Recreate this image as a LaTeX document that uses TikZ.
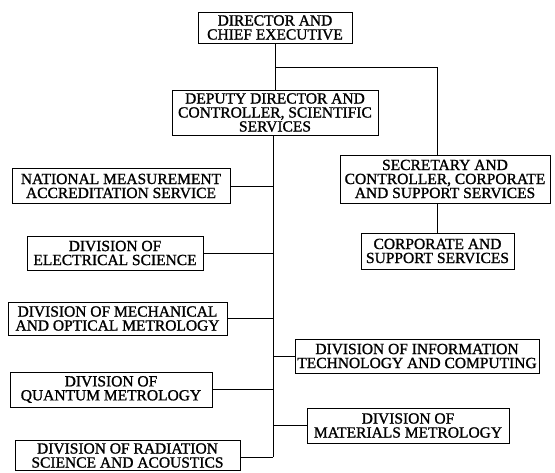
\documentclass[tikz,border=0pt]{standalone}
\usepackage{fontspec}
\setmainfont[FakeBold=1.2]{Liberation Serif}
\begin{document}
\begin{tikzpicture}[x=1pt,y=-1pt,
  box/.style={draw,line width=1pt,inner sep=0pt,align=center,
    font=\fontsize{15.5}{14}\selectfont},
  link/.style={line width=1pt}]
\useasboundingbox (0,0) rectangle (555,472);
\node[box,minimum width=154,minimum height=31] (dir) at (275,27.5) {DIRECTOR AND\\CHIEF EXECUTIVE};
\node[box,minimum width=206,minimum height=45] (dep) at (275,112.5) {DEPUTY DIRECTOR AND\\CONTROLLER, SCIENTIFIC\\SERVICES};
\node[box,minimum width=218,minimum height=35] (nmas) at (121,186) {NATIONAL MEASUREMENT\\ACCREDITATION SERVICE};
\node[box,minimum width=176,minimum height=34] (elec) at (115,253) {DIVISION OF\\ELECTRICAL SCIENCE};
\node[box,minimum width=219,minimum height=33] (mech) at (117.5,318.5) {DIVISION OF MECHANICAL\\AND OPTICAL METROLOGY};
\node[box,minimum width=202,minimum height=35] (quant) at (111,389.5) {DIVISION OF\\QUANTUM METROLOGY};
\node[box,minimum width=225,minimum height=30] (rad) at (127.5,455.5) {DIVISION OF RADIATION\\SCIENCE AND ACOUSTICS};
\node[box,minimum width=210,minimum height=48] (sec) at (445,179) {SECRETARY AND\\CONTROLLER, CORPORATE\\AND SUPPORT SERVICES};
\node[box,minimum width=153,minimum height=36] (corp) at (437.5,251) {CORPORATE AND\\SUPPORT SERVICES};
\node[box,minimum width=244,minimum height=34] (it) at (417,356) {DIVISION OF INFORMATION\\TECHNOLOGY AND COMPUTING};
\node[box,minimum width=202,minimum height=35] (mat) at (408,425.5) {DIVISION OF\\MATERIALS METROLOGY};
\coordinate (br) at (275,67);
\coordinate (rx) at (437,67);
\coordinate (tb) at (273,457);
\draw[link] (dir.south) -- (dep.north);
\draw[link] (br) -- (rx) -- (rx |- sec.north);
\draw[link] (rx |- sec.south) -- (rx |- corp.north);
\draw[link] (dep.south -| tb) -- (tb);
\draw[link] (nmas.east) -- (nmas.east -| tb);
\draw[link] (elec.east) -- (elec.east -| tb);
\draw[link] (mech.east) -- (mech.east -| tb);
\draw[link] (quant.east) -- (quant.east -| tb);
\draw[link] (rad.east |- tb) -- (tb);
\draw[link] (it.west) -- (it.west -| tb);
\draw[link] (mat.west) -- (mat.west -| tb);
\end{tikzpicture}
\end{document}
